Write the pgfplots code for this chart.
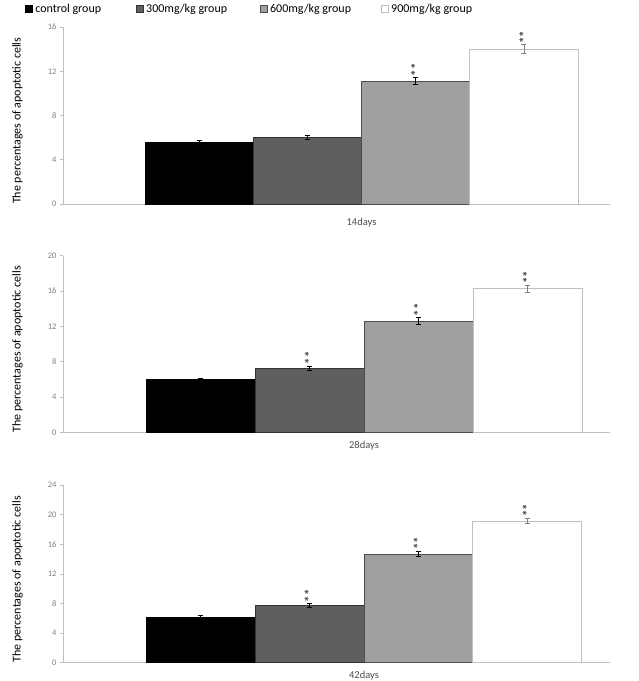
\documentclass[border=0pt]{standalone}
\usepackage{pgfplots}
\pgfplotsset{compat=1.18}
\usepackage{fontspec}
\setmainfont{Carlito}
\definecolor{bartwo}{HTML}{5F5F5F}
\definecolor{barthree}{HTML}{A0A0A0}
\definecolor{axisgray}{HTML}{BFBFBF}
\definecolor{tickgray}{HTML}{7F7F7F}
\tikzset{stars/.style={rotate=90, anchor=west, inner sep=1pt, font=\fontsize{13}{14}\selectfont\bfseries, text=black!75}}
\pgfplotsset{
  panel/.style={
    scale only axis, width=547pt,
    xmin=63, xmax=610, ymin=0,
    axis lines*=left,
    axis line style={draw=axisgray, line width=0.6pt},
    tick align=outside, major tick length=3pt,
    ytick style={draw=axisgray, line width=0.6pt},
    xtick style={draw=none},
    yticklabel style={font=\fontsize{8.5}{9}\selectfont, text=tickgray},
    xticklabel style={font=\fontsize{10.5}{12}\selectfont, text=black!70},
    /pgf/number format/assume math mode=true,
    ylabel={The percentages of apoptotic cells},
    ylabel style={at={(axis description cs:-0.083,0.47)}, anchor=center, rotate=0, font=\fontsize{12}{14}\selectfont},
    clip=false,
  },
  eb/.style={error bars/y dir=both, error bars/y explicit,
    error bars/error bar style={line width=0.5pt, draw=#1},
    error bars/error mark options={rotate=90, mark size=2.5pt, line width=0.5pt, draw=#1}},
  b1/.style={ybar, bar shift=0pt, fill=black, draw=black, line width=0.4pt, eb=black},
  b2/.style={ybar, bar shift=0pt, fill=bartwo, draw=black!80, line width=0.4pt, eb=black},
  b3/.style={ybar, bar shift=0pt, fill=barthree, draw=black!70, line width=0.4pt, eb=black},
  b4/.style={ybar, bar shift=0pt, fill=white, draw=axisgray, line width=0.6pt, eb=gray},
}
\begin{document}
\begin{tikzpicture}
\useasboundingbox (0,0) rectangle (639pt,681pt);
% Panel 1: 14 days
\begin{axis}[panel, at={(63pt,477pt)}, anchor=south west, height=177pt,
  ymax=16, ytick={0,4,8,12,16}, xtick={361.5}, xticklabels={14days},
  xticklabel style={yshift=-8pt},
  legend columns=4,
  legend image code/.code={\draw[#1] (0pt,-3.5pt) rectangle (7.5pt,3.5pt);},
  legend style={at={(axis description cs:-0.07,1.137)}, anchor=north west, draw=none, fill=none,
    font=\fontsize{12}{14}\selectfont, inner sep=0pt, nodes={inner sep=1pt}},
  legend cell align=left]
\addplot[b1, bar width=108.25] coordinates {(199.1,5.58) +- (0,0.15)};
\addlegendentry{\makebox[101pt][l]{\hspace{1.5pt}control group}}
\addplot[b2, bar width=108.25] coordinates {(307.4,6.03) +- (0,0.22)};
\addlegendentry{\makebox[114pt][l]{\hspace{1.5pt}300mg/kg group}}
\addplot[b3, bar width=108.25] coordinates {(415.6,11.12) +- (0,0.32)};
\addlegendentry{\makebox[111pt][l]{\hspace{1.5pt}600mg/kg group}}
\addplot[b4, bar width=108.25] coordinates {(523.9,14.0) +- (0,0.40)};
\addlegendentry{\hspace{1.5pt}900mg/kg group}
\node[stars] at (axis cs:415.6,11.45) {**};
\node[stars] at (axis cs:523.9,14.4) {**};
\end{axis}
% Panel 2: 28 days
\begin{axis}[panel, at={(63pt,248.7pt)}, anchor=south west, height=176.6pt,
  ymax=20, ytick={0,4,8,12,16,20}, xtick={364}, xticklabels={28days},
  xticklabel style={yshift=-2pt}]
\addplot[b1, bar width=109] coordinates {(200.5,6.0) +- (0,0.15)};
\addplot[b2, bar width=109] coordinates {(309.5,7.28) +- (0,0.25)};
\addplot[b3, bar width=109] coordinates {(418.5,12.6) +- (0,0.40)};
\addplot[b4, bar width=109] coordinates {(527.5,16.3) +- (0,0.40)};
\node[stars] at (axis cs:309.5,7.55) {**};
\node[stars] at (axis cs:418.5,13.0) {**};
\node[stars] at (axis cs:527.5,16.7) {**};
\end{axis}
% Panel 3: 42 days
\begin{axis}[panel, at={(63pt,18.3pt)}, anchor=south west, height=177.7pt,
  ymax=24, ytick={0,4,8,12,16,20,24}, xtick={364}, xticklabels={42days},
  xticklabel style={yshift=-2pt}]
\addplot[b1, bar width=109] coordinates {(200.2,6.17) +- (0,0.2)};
\addplot[b2, bar width=109] coordinates {(309.2,7.7) +- (0,0.27)};
\addplot[b3, bar width=109] coordinates {(418.2,14.7) +- (0,0.36)};
\addplot[b4, bar width=109] coordinates {(527.2,19.15) +- (0,0.38)};
\node[stars] at (axis cs:309.2,8.0) {**};
\node[stars] at (axis cs:418.2,15.1) {**};
\node[stars] at (axis cs:527.2,19.55) {**};
\end{axis}
\end{tikzpicture}
\end{document}
